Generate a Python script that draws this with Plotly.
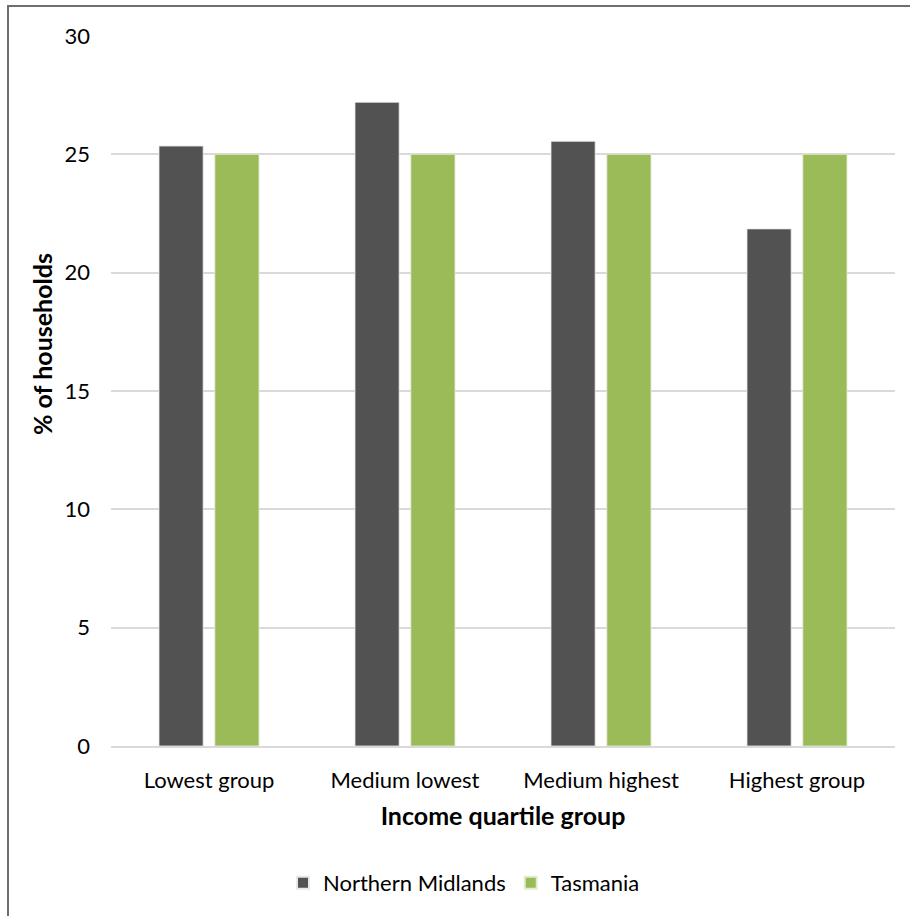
import plotly.graph_objects as go

# Household income distribution by quartile group
categories = ["Lowest group", "Medium lowest", "Medium highest", "Highest group"]
northern_midlands = [25.35, 27.2, 25.55, 21.85]
tasmania = [25.0, 25.0, 25.0, 25.0]
y_ticks = [0, 5, 10, 15, 20, 25, 30]

W, H = 910, 916
L, R, T, B = 111, 15, 36, 170
pw, ph = W - L - R, H - T - B

FONT = "Lato, 'Open Sans', sans-serif"

fig = go.Figure()
fig.add_trace(go.Bar(
    name="Northern Midlands", x=categories, y=northern_midlands,
    marker=dict(color="#525252", line=dict(color="#e8e8e8", width=0.8)),
))
fig.add_trace(go.Bar(
    name="Tasmania", x=categories, y=tasmania,
    marker=dict(color="#9bbb59", line=dict(color="#e3eccf", width=0.8)),
))

fig.update_layout(
    width=W, height=H,
    margin=dict(l=L, r=R, t=T, b=B),
    paper_bgcolor="white", plot_bgcolor="white",
    barmode="group", bargap=0.43, bargroupgap=0.21,
    font=dict(family=FONT, size=22, color="#000000"),
    showlegend=True,
    legend=dict(
        orientation="h", x=(283 - L) / pw, xanchor="left",
        y=(H - 883 - B) / ph, yanchor="middle",
        font=dict(size=22, color="#000000"),
        itemsizing="constant", itemwidth=30, traceorder="normal",
    ),
    xaxis=dict(
        showgrid=False, showline=True, linecolor="#d9d9d9", linewidth=1.5,
        ticks="", tickfont=dict(size=22), ticklabelstandoff=14,
        title=dict(text="<b>Income quartile group</b>", font=dict(size=25), standoff=15),
    ),
    yaxis=dict(
        range=[0, 30], tickvals=y_ticks, showgrid=True, gridcolor="#d9d9d9", gridwidth=1.5,
        zeroline=False, showline=False, ticks="", tickfont=dict(size=22),
        ticklabelstandoff=20,
    ),
)

# Vertical axis title, placed in pixel terms relative to the plot area
fig.add_annotation(
    text="<b>% of households</b>", textangle=-90, showarrow=False,
    xref="paper", yref="paper",
    x=(42 - L) / pw, y=(H - B - 344) / ph, xanchor="center", yanchor="middle",
    font=dict(size=25, color="#000000"),
)

# Outer chart frame
fig.add_shape(
    type="rect", xref="paper", yref="paper",
    x0=(8 - L) / pw, x1=(W + 10 - L) / pw,
    y0=-(H + 10 - T - ph) / ph, y1=1 + (T - 6) / ph,
    line=dict(color="#6e6e6e", width=2), fillcolor="rgba(0,0,0,0)", layer="below",
)

fig.write_html("out.html")
